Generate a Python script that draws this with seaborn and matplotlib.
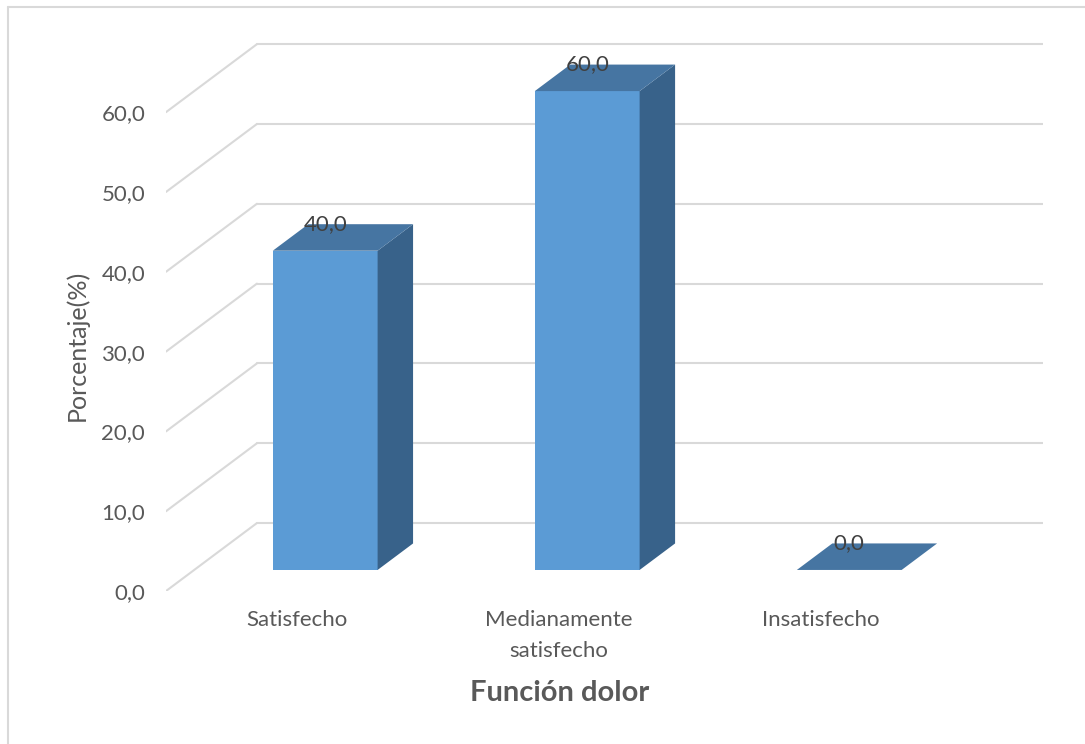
"""
Función dolor - 3D style bar chart (percentages) drawn with seaborn + patches.
"""
import pandas as pd
import matplotlib
matplotlib.use("Agg")
import matplotlib.pyplot as plt
from matplotlib.patches import Polygon
from matplotlib.lines import Line2D
import seaborn as sns

# Data
categories = ["Satisfecho", "Medianamente\nsatisfecho", "Insatisfecho"]
percentages = [40.0, 60.0, 0.0]
y_ticks = [0, 10, 20, 30, 40, 50, 60]
y_tick_labels = ["0,0", "10,0", "20,0", "30,0", "40,0", "50,0", "60,0"]
value_labels = ["40,0", "60,0", "0,0"]

# Colours
front_color = "#5B9BD5"
top_color = "#4675A2"
side_color = "#38628A"
grid_color = "#D9D9D9"
text_color = "#595959"

# Oblique depth in data units (x per category, y per percentage point)
DX, DY = 0.347, 8.52
depth_front, depth_back = 0.31, 0.70
bar_width = 0.40

sns.set_theme(style="white")
plt.rcParams["font.family"] = ["Lato", "DejaVu Sans"]

df = pd.DataFrame({"categoria": categories, "porcentaje": percentages})

fig = plt.figure(figsize=(10.85, 7.44), dpi=100)
ax = fig.add_axes([166 / 1085, 0.2056, 877 / 1085, 0.7509])

sns.barplot(data=df, x="categoria", y="porcentaje", color=front_color,
            width=bar_width, saturation=1, ax=ax, zorder=3, errorbar=None)

sx, sy = depth_front * DX, depth_front * DY
bx, by = (depth_back - depth_front) * DX, (depth_back - depth_front) * DY

for i, (patch, val, lab) in enumerate(zip(ax.patches, percentages, value_labels)):
    patch.set_facecolor(front_color)
    patch.set_edgecolor("none")
    patch.set_x(patch.get_x() + sx)
    patch.set_y(sy)
    xl = patch.get_x()
    xr = xl + patch.get_width()
    top = sy + val
    side = Polygon([(xr, sy), (xr, top), (xr + bx, top + by), (xr + bx, sy + by)],
                   closed=True, facecolor=side_color, edgecolor="none", zorder=3)
    lid = Polygon([(xl, top), (xr, top), (xr + bx, top + by), (xl + bx, top + by)],
                  closed=True, facecolor=top_color, edgecolor="none", zorder=4)
    ax.add_patch(side)
    ax.add_patch(lid)
    ax.text(i + sx, top + by, lab, ha="center", va="center",
            fontsize=16, color="#404040", zorder=5)

# Back wall gridlines and floor/side diagonals
for v in y_ticks:
    ax.plot([-0.5 + DX, 2.5 + DX], [v + DY, v + DY], color=grid_color, lw=1.5, zorder=1)
    ax.plot([-0.5, -0.5 + DX], [v, v + DY], color=grid_color, lw=1.5, zorder=1)

ax.set_xlim(-0.5, 2.5 + DX)
ax.set_ylim(0, 70)
ax.set_yticks(y_ticks)
ax.set_yticklabels(y_tick_labels)
ax.tick_params(axis="y", length=0, pad=15, labelsize=16, labelcolor=text_color)
ax.tick_params(axis="x", length=0, pad=14, labelsize=16, labelcolor=text_color)
for lbl in ax.get_xticklabels():
    lbl.set_linespacing(1.65)
ax.set_xlabel("")
ax.set_ylabel("")
for s in ax.spines.values():
    s.set_visible(False)
ax.patch.set_alpha(0)

fig.text(77 / 1085, 1 - 345 / 744, "Porcentaje(%)", rotation=90, ha="center",
         va="center", fontsize=18, color=text_color)
fig.text(560 / 1085, 1 - 693 / 744, "Función dolor", ha="center", va="center",
         fontsize=21, fontweight="bold", color=text_color)

# Chart area border (left and top visible)
fig.add_artist(Line2D([8 / 1085, 8 / 1085], [0, 1 - 7 / 744], transform=fig.transFigure,
                      color=grid_color, lw=1.5))
fig.add_artist(Line2D([8 / 1085, 1], [1 - 7 / 744, 1 - 7 / 744], transform=fig.transFigure,
                      color=grid_color, lw=1.5))

fig.savefig("out.png", dpi=100, facecolor="white")
